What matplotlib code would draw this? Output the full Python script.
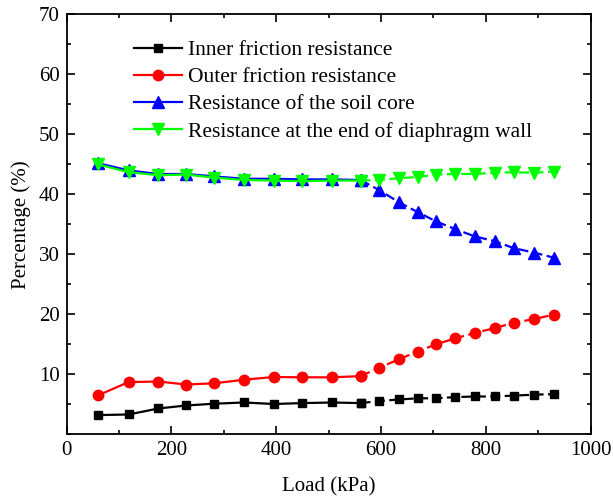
import matplotlib
matplotlib.use("Agg")
import matplotlib.pyplot as plt
from matplotlib.ticker import MultipleLocator

plt.rcParams["font.family"] = ["Liberation Serif", "DejaVu Serif"]
plt.rcParams["mathtext.fontset"] = "stix"

# load steps (kPa)
load = [60, 118, 175, 228, 282, 338, 395, 450, 507, 561,
        597, 634, 670, 705, 742, 779, 817, 853, 892, 930]

inner_friction = [3.2, 3.3, 4.3, 4.8, 5.1, 5.3, 5.05, 5.2, 5.3, 5.2,
                  5.55, 5.8, 6.0, 6.0, 6.2, 6.3, 6.3, 6.45, 6.6, 6.7]
outer_friction = [6.5, 8.7, 8.8, 8.3, 8.5, 9.1, 9.55, 9.5, 9.5, 9.7,
                  11.1, 12.5, 13.8, 15.0, 16.0, 16.9, 17.7, 18.6, 19.2, 19.95]
soil_core = [45.2, 44.0, 43.4, 43.4, 43.0, 42.6, 42.6, 42.5, 42.5, 42.4,
             40.7, 38.7, 37.05, 35.5, 34.2, 33.0, 32.2, 31.05, 30.3, 29.45]
wall_end = [45.0, 43.7, 43.2, 43.3, 42.8, 42.4, 42.3, 42.2, 42.3, 42.3,
            42.4, 42.7, 42.9, 43.3, 43.4, 43.4, 43.6, 43.7, 43.6, 43.8]

series = [
    ("Inner friction resistance", inner_friction, "black", "s", 6.0),
    ("Outer friction resistance", outer_friction, "red", "o", 7.5),
    ("Resistance of the soil core", soil_core, "blue", "^", 8.0),
    ("Resistance at the end of diaphragm wall", wall_end, "#00ff00", "v", 8.0),
]
split = 9  # solid up to this index, dashed afterwards

fig = plt.figure(figsize=(6.13, 4.99), dpi=100)
ax = fig.add_axes([0.1088, 0.1297, 0.8545, 0.8413])

for name, vals, col, mk, ms in series:
    ax.plot(load[:split + 1], vals[:split + 1], color=col, marker=mk, ms=ms,
            lw=1.6, ls="-", label=name)
    ax.plot(load[split:], vals[split:], color=col, marker=mk, ms=ms,
            lw=1.6, ls=(0, (4.5, 2)))

ax.set_xlim(0, 1000)
ax.set_ylim(0, 70)
ax.xaxis.set_major_locator(MultipleLocator(200))
ax.xaxis.set_minor_locator(MultipleLocator(100))
ax.yaxis.set_major_locator(MultipleLocator(10))
ax.yaxis.set_minor_locator(MultipleLocator(5))
ax.set_yticks([10, 20, 30, 40, 50, 60, 70])
ax.tick_params(which="both", direction="in", top=True, right=True,
               labelsize=15, width=1.2)
ax.tick_params(which="major", length=6, pad=5)
ax.tick_params(which="minor", length=3)
for sp in ax.spines.values():
    sp.set_linewidth(1.3)

ax.set_xlabel("Load (kPa)", fontsize=15, labelpad=12)
ax.set_ylabel("Percentage (%)", fontsize=15, labelpad=6)

ax.legend(loc="upper left", bbox_to_anchor=(0.1, 0.975), frameon=False,
          fontsize=15.5, handlelength=2.2, handletextpad=0.3,
          labelspacing=0.33, borderaxespad=0.3)

fig.savefig("out.png", dpi=100)
